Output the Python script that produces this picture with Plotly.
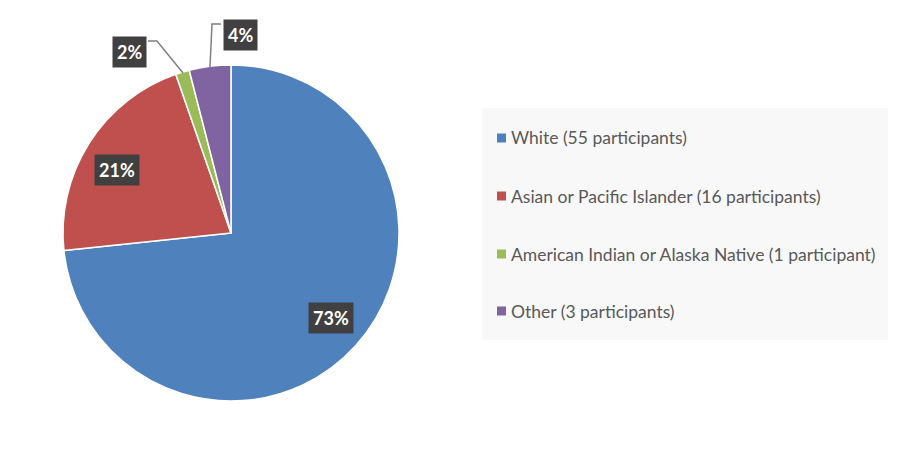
import plotly.graph_objects as go

categories = ["White", "Asian or Pacific Islander", "American Indian or Alaska Native", "Other"]
participants = [55, 16, 1, 3]
legend_labels = [
    "White (55 participants)",
    "Asian or Pacific Islander (16 participants)",
    "American Indian or Alaska Native (1 participant)",
    "Other (3 participants)",
]
pct_labels = ["73%", "21%", "2%", "4%"]
colors = ["#4f81bd", "#c0504d", "#9bbb59", "#8064a2"]

# the page body keeps its default 8px margin, so the figure is made smaller
OFF = 8
W, H = 900 - 2 * OFF, 450 - 2 * OFF


def px(x, y):
    # screen pixel position -> paper coords
    return (x - OFF) / W, 1 - (y - OFF) / H


# pie placement: centre (231, 233), radius 168 on screen
cx, cy, r = 231, 233, 168
(dx0, dy0), (dx1, dy1) = px(cx - r, cy + r), px(cx + r, cy - r)
fig = go.Figure(go.Pie(
    labels=categories, values=participants, sort=False, direction="clockwise",
    rotation=0, marker=dict(colors=colors, line=dict(color="white", width=1.5)),
    textinfo="none", hoverinfo="label+value+percent", showlegend=False,
    domain=dict(x=[dx0, dx1], y=[dy0, dy1]),
))

shapes = []
annotations = []

# legend box
x0, y0 = px(482, 340)
x1, y1 = px(888, 108)
shapes.append(dict(type="rect", xref="paper", yref="paper", x0=x0, y0=y0, x1=x1, y1=y1,
                   fillcolor="#f8f8f8", line=dict(width=0), layer="below"))
legend_y = [138, 196, 254, 311]
for lab, col, ly in zip(legend_labels, colors, legend_y):
    a0, b0 = px(497, ly + 4.5)
    a1, b1 = px(506, ly - 4.5)
    shapes.append(dict(type="rect", xref="paper", yref="paper", x0=a0, y0=b0, x1=a1, y1=b1,
                       fillcolor=col, line=dict(width=0)))
    tx, ty = px(509, ly)
    annotations.append(dict(text=lab, xref="paper", yref="paper", x=tx, y=ty,
                            xanchor="left", yanchor="middle", showarrow=False,
                            font=dict(family="Lato", size=17.5, color="#595959")))

# percentage labels
label_pos = [(331, 318), (117, 170), (129, 52), (240, 35)]
for txt, (lx, ly) in zip(pct_labels, label_pos):
    ax, ay = px(lx, ly)
    annotations.append(dict(text="<b>%s</b>" % txt, xref="paper", yref="paper", x=ax, y=ay,
                            xanchor="center", yanchor="middle", showarrow=False,
                            bgcolor="#404040", borderpad=4,
                            font=dict(family="Lato", size=18, color="white")))

# leader lines
leaders = [[(148, 41), (157, 41), (183, 73)], [(221, 24), (212, 24), (210, 67)]]
for pts in leaders:
    path = ""
    for i, (x, y) in enumerate(pts):
        u, v = px(x, y)
        path += ("M" if i == 0 else " L") + " %f %f" % (u, v)
    shapes.append(dict(type="path", xref="paper", yref="paper", path=path,
                       line=dict(color="#7f7f7f", width=1.5)))

fig.update_layout(
    width=W, height=H, margin=dict(l=0, r=0, t=0, b=0),
    paper_bgcolor="white", plot_bgcolor="white",
    shapes=shapes, annotations=annotations,
)
fig.write_html("out.html")
